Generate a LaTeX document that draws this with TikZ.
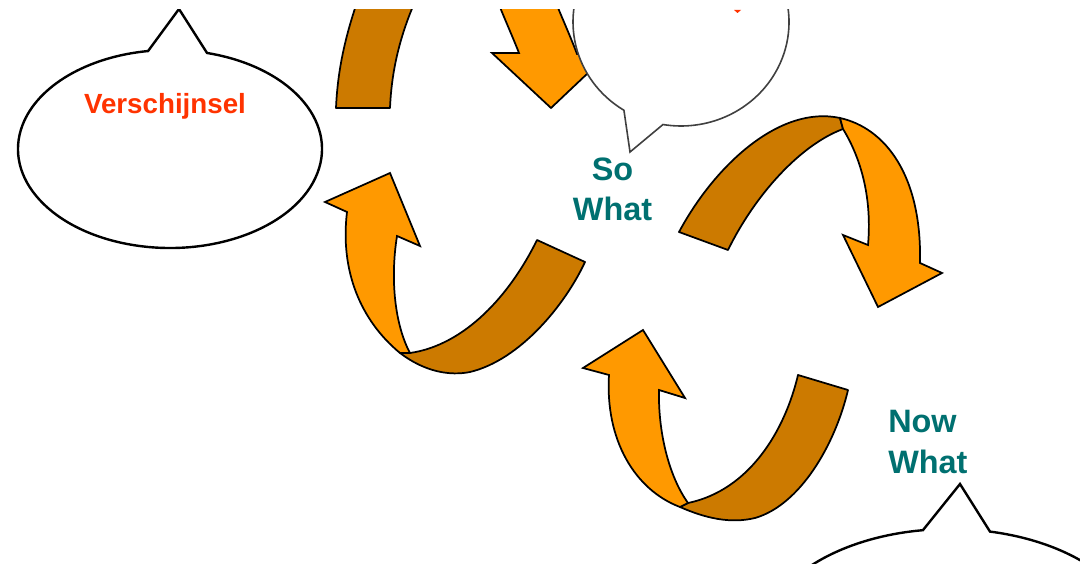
\documentclass[tikz,border=0pt]{standalone}
\usepackage{fontspec}
\setmainfont{Liberation Sans}
\definecolor{backbrown}{RGB}{204,122,0}
\definecolor{frontorange}{RGB}{255,153,0}
\definecolor{redtext}{RGB}{255,51,0}
\definecolor{tealtext}{RGB}{0,112,112}
\tikzset{
  back/.style={fill=backbrown, draw=black, line width=1.3pt, line join=round},
  front/.style={fill=frontorange, draw=black, line width=1.3pt, line join=miter},
  bubble/.style={fill=white, draw=black, line width=1.8pt, line join=miter},
  thinbubble/.style={fill=white, draw=black!75, line width=1.2pt, line join=miter},
  redlbl/.style={font=\bfseries\fontsize{20.8}{25}\selectfont, text=redtext, inner sep=0pt},
  teallbl/.style={font=\bfseries\fontsize{24.3}{30}\selectfont, text=tealtext, inner sep=0pt},
}
\begin{document}
\begin{tikzpicture}[x=0.75pt,y=-0.75pt]
\useasboundingbox (0,0) rectangle (1080,566);
\begin{scope}
\clip (0,10) rectangle (1080,563);
% Arrow A (top, mostly cut off)
\draw[back] (336,108) .. controls (338,60) and (350,20) .. (365,-20) -- (425,-20) .. controls (405,20) and (392,60) .. (390,108) -- cycle;
\draw[front] (488,-25) .. controls (498,5) and (510,30) .. (519,53) -- (492,53) -- (551,108) -- (607,55) -- (577,54) .. controls (568,30) and (556,5) .. (545,-25) -- cycle;
% Arrow B (right)
\draw[back] (679,232) .. controls (715,165) and (780,105) .. (840,118) -- (843,129) .. controls (800,145) and (755,195) .. (728,250) -- cycle;
\draw[front] (840,118) .. controls (885,128) and (922,175) .. (920,263) -- (942,273) -- (878,307) -- (843,235) -- (868,245) .. controls (872,200) and (862,160) .. (843,129) -- cycle;
% Arrow C (left middle)
\draw[back] (400,353) .. controls (425,372) and (450,376) .. (470,372) .. controls (520,360) and (565,305) .. (585,262) -- (537,240) .. controls (510,295) and (465,345) .. (410,353) -- cycle;
\draw[front] (400,353) .. controls (360,320) and (340,270) .. (347,212) -- (325,202) -- (390,173) -- (420,246) -- (397,236) .. controls (390,280) and (395,325) .. (410,353) -- cycle;
% Arrow D (bottom)
\draw[back] (680,507) .. controls (705,518) and (730,524) .. (755,518) .. controls (800,505) and (835,445) .. (848,390) -- (798,375) .. controls (785,430) and (750,490) .. (688,503) -- cycle;
\draw[front] (680,507) .. controls (635,490) and (605,440) .. (609,375) -- (583,368) -- (643,330) -- (685,398) -- (659,390) .. controls (658,430) and (668,475) .. (688,503) -- cycle;
% Bubbles
\draw[bubble] (170,149) ++(-75.9:152 and 99) arc[start angle=-75.9, end angle=261.7, x radius=152, y radius=99] -- (179,9) -- cycle;
\draw[thinbubble] (681,22) ++(121.9:108 and 104) arc[start angle=121.9, end angle=459.6, x radius=108, y radius=104] -- (630,152) -- cycle;
\draw[bubble] (950,644) ++(-77.85:190 and 115) arc[start angle=-77.85, end angle=261.8, x radius=190, y radius=115] -- (960,484) -- cycle;
\fill[redtext] (734,10) -- (741,10) -- (737.5,13) -- cycle;
\end{scope}
% Labels
\node[redlbl, anchor=base] (versch) at (165,114) {Verschijnsel};
\node[teallbl, anchor=base] (so1) at (612.5,181) {So};
\node[teallbl, anchor=base] (so2) at (612.5,221) {What};
\node[teallbl, anchor=base west] (now1) at (888,432) {Now};
\node[teallbl, anchor=base west] (now2) at (888,473) {What};
\end{tikzpicture}
\end{document}
